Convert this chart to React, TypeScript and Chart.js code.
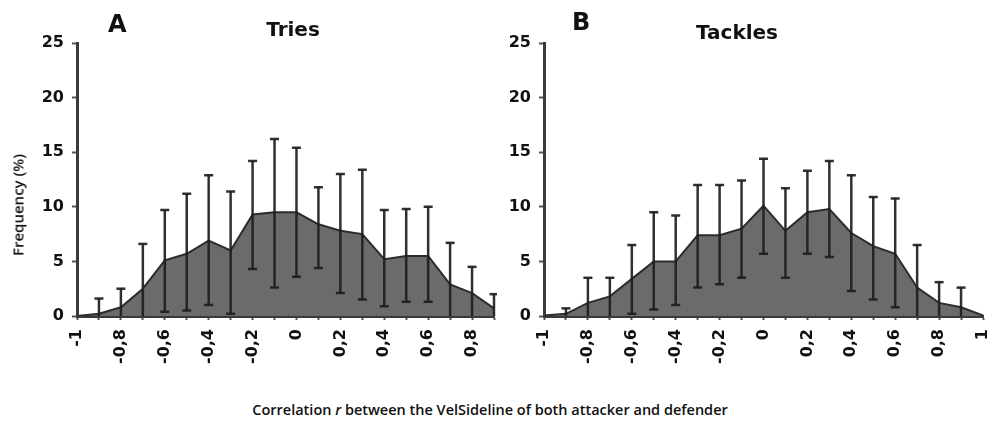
import React, { useEffect, useRef } from "react";
import { Chart, registerables } from "chart.js";

Chart.register(...registerables);

// ---------- data ----------
const xValuesA = [-1, -0.9, -0.8, -0.7, -0.6, -0.5, -0.4, -0.3, -0.2, -0.1, 0, 0.1, 0.2, 0.3, 0.4, 0.5, 0.6, 0.7, 0.8, 0.9];
const xValuesB = [-1, -0.9, -0.8, -0.7, -0.6, -0.5, -0.4, -0.3, -0.2, -0.1, 0, 0.1, 0.2, 0.3, 0.4, 0.5, 0.6, 0.7, 0.8, 0.9, 1];

const triesMean = [0, 0.2, 0.8, 2.5, 5.1, 5.7, 6.9, 6.0, 9.3, 9.5, 9.5, 8.4, 7.8, 7.5, 5.2, 5.5, 5.5, 2.9, 2.1, 0.7];
const triesUpper = [null, 1.6, 2.5, 6.6, 9.7, 11.2, 12.9, 11.4, 14.2, 16.2, 15.4, 11.8, 13.0, 13.4, 9.7, 9.8, 10.0, 6.7, 4.5, 2.0];
const triesLower = [null, 0, 0, 0, 0.4, 0.5, 1.0, 0.2, 4.3, 2.6, 3.6, 4.4, 2.1, 1.5, 0.9, 1.3, 1.3, 0, 0, 0];

const tacklesMean = [0.05, 0.2, 1.2, 1.8, 3.4, 5.0, 5.0, 7.4, 7.4, 8.0, 10.1, 7.8, 9.5, 9.8, 7.6, 6.4, 5.7, 2.6, 1.2, 0.8, 0.05];
const tacklesUpper = [null, 0.7, 3.5, 3.5, 6.5, 9.5, 9.2, 12.0, 12.0, 12.4, 14.4, 11.7, 13.3, 14.2, 12.9, 10.9, 10.75, 6.5, 3.1, 2.6, null];
const tacklesLower = [null, 0, 0, 0, 0.2, 0.6, 1.0, 2.6, 2.9, 3.5, 5.7, 3.5, 5.7, 5.4, 2.3, 1.5, 0.8, 0, 0, 0, null];

const yTickValues = [0, 5, 10, 15, 20, 25];

const panelLetters = ["A", "B"];
const panelTitles = ["Tries", "Tackles"];
const yAxisTitle = "Frequency (%)";

// ---------- helpers ----------
const fmt = (v: number) => (v === 0 ? "0" : String(v).replace(".", ","));

type PanelProps = {
  xs: number[];
  mean: number[];
  upper: (number | null)[];
  lower: (number | null)[];
  yAxisWidth: number;
  rightPad: number;
  width: number;
  height: number;
};

function Panel(p: PanelProps) {
  const ref = useRef<HTMLCanvasElement | null>(null);
  useEffect(() => {
    if (!ref.current) return;
    const errorBars = {
      id: "errorBars",
      afterDatasetsDraw(chart: any) {
        const ctx = chart.ctx;
        const xs = chart.scales.x;
        const ys = chart.scales.y;
        ctx.save();
        ctx.strokeStyle = "rgba(30,30,30,0.92)";
        ctx.lineWidth = 2.5;
        for (let i = 0; i < p.xs.length; i++) {
          const u = p.upper[i];
          const l = p.lower[i];
          if (u == null || l == null) continue;
          const x = xs.getPixelForValue(i);
          const yu = ys.getPixelForValue(u);
          const yl = ys.getPixelForValue(l);
          ctx.beginPath();
          ctx.moveTo(x, yl);
          ctx.lineTo(x, yu);
          ctx.stroke();
          ctx.beginPath();
          ctx.moveTo(x - 4.5, yu);
          ctx.lineTo(x + 4.5, yu);
          if (l > 0) {
            ctx.moveTo(x - 4.5, yl);
            ctx.lineTo(x + 4.5, yl);
          }
          ctx.stroke();
        }
        ctx.restore();
      },
    };
    const tickFont = { family: "'DejaVu Sans', sans-serif", size: 16, weight: "bold" as const };
    const chart = new Chart(ref.current, {
      type: "line",
      data: {
        labels: p.xs.map(fmt),
        datasets: [
          {
            data: p.mean,
            fill: "origin",
            backgroundColor: "#6b6b6b",
            borderColor: "#2c2c2c",
            borderWidth: 2,
            pointRadius: 0,
            tension: 0,
          },
        ],
      },
      options: {
        animation: false,
        responsive: false,
        events: [],
        layout: { padding: { top: 43, right: p.rightPad, left: 0, bottom: 0 } },
        plugins: { legend: { display: false }, tooltip: { enabled: false }, title: { display: false } },
        scales: {
          x: {
            type: "category",
            offset: false,
            grid: { display: true, drawOnChartArea: false, drawTicks: true, tickLength: 4, tickColor: "#555", tickWidth: 2 },
            border: { display: true, color: "#3a3a3a", width: 3 },
            ticks: {
              autoSkip: false,
              minRotation: 90,
              maxRotation: 90,
              padding: 9,
              color: "#111",
              font: tickFont,
              callback: (_v: any, i: number) => (i % 2 === 0 ? fmt(p.xs[i]) : ""),
            },
            afterFit: (s: any) => {
              s.height = p.height - 43 - 273;
              s.paddingLeft = 0;
              s.paddingRight = 0;
            },
          },
          y: {
            min: 0,
            max: 25,
            afterBuildTicks: (s: any) => {
              s.ticks = yTickValues.map((v) => ({ value: v }));
            },
            grid: { display: true, drawOnChartArea: false, drawTicks: true, tickLength: 5, tickColor: "#555", tickWidth: 2 },
            border: { display: true, color: "#3a3a3a", width: 3 },
            ticks: { padding: 8, color: "#111", font: tickFont },
            afterFit: (s: any) => {
              s.width = p.yAxisWidth;
            },
          },
        },
      },
      plugins: [errorBars],
    } as any);
    return () => chart.destroy();
  }, []);
  return <canvas ref={ref} width={p.width} height={p.height} style={{ width: p.width, height: p.height, display: "block" }} />;
}

const letterStyle: React.CSSProperties = {
  position: "absolute",
  fontFamily: "'DejaVu Sans', sans-serif",
  fontWeight: 900,
  fontSize: 24,
  color: "#111",
  lineHeight: 1,
};
const titleStyle: React.CSSProperties = {
  position: "absolute",
  fontFamily: "'DejaVu Sans', sans-serif",
  fontWeight: 700,
  fontSize: 20,
  color: "#111",
  lineHeight: 1,
  transform: "translateX(-50%)",
  whiteSpace: "nowrap",
};

export default function App() {
  return (
    <div style={{ position: "absolute", left: 0, top: 0, width: 988, height: 424, background: "#fff", overflow: "hidden" }}>
      <div style={{ position: "absolute", left: 0, top: 0 }}>
        <Panel xs={xValuesA} mean={triesMean} upper={triesUpper} lower={triesLower} yAxisWidth={77} rightPad={3} width={497} height={390} />
      </div>
      <div style={{ position: "absolute", left: 490, top: 0 }}>
        <Panel xs={xValuesB} mean={tacklesMean} upper={tacklesUpper} lower={tacklesLower} yAxisWidth={54} rightPad={5} width={498} height={390} />
      </div>
      <div style={{ ...letterStyle, left: 108, top: 12 }}>{panelLetters[0]}</div>
      <div style={{ ...titleStyle, left: 293, top: 19 }}>{panelTitles[0]}</div>
      <div style={{ ...letterStyle, left: 572, top: 10 }}>{panelLetters[1]}</div>
      <div style={{ ...titleStyle, left: 737, top: 22 }}>{panelTitles[1]}</div>
      <div
        style={{
          position: "absolute",
          left: 18,
          top: 205,
          transform: "translate(-50%, -50%) rotate(-90deg)",
          whiteSpace: "nowrap",
          fontFamily: "'Open Sans', sans-serif",
          fontWeight: 600,
          fontSize: 15,
          lineHeight: 1,
          color: "#111",
        }}
      >
        {yAxisTitle}
      </div>
      <div
        style={{
          position: "absolute",
          left: 490,
          top: 400,
          transform: "translateX(-50%)",
          whiteSpace: "nowrap",
          fontFamily: "'Open Sans', sans-serif",
          fontWeight: 600,
          fontSize: 14.5,
          color: "#111",
        }}
      >
        Correlation <i>r</i> between the VelSideline of both attacker and defender
      </div>
    </div>
  );
}
